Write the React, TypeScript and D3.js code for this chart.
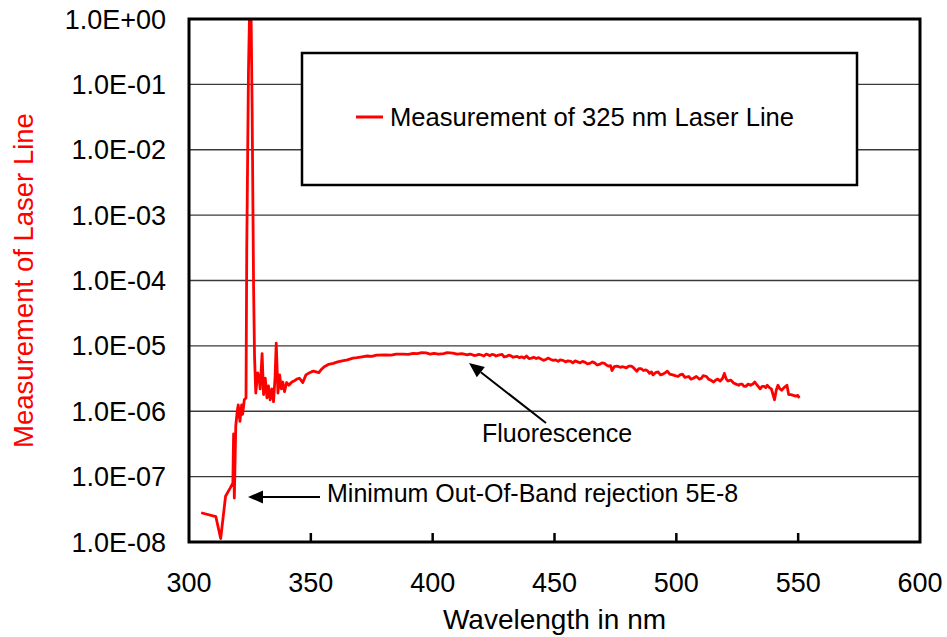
import React, { useRef, useEffect } from "react";
import * as d3 from "d3";

const wavelengths = [
  305, 311, 313, 315, 317, 318, 318.3, 318.6, 319.2, 319.8, 320.2, 320.9, 321.6, 322.0, 322.7, 323.4,
  323.7, 324.4, 324.8, 325.5, 325.9, 326.5, 326.9, 327.4, 328.2, 328.8, 329.2, 330.0, 330.6, 331.3,
  332.0, 332.6, 333.3, 334.0, 334.7, 335.3, 335.8, 336.5, 337.2, 337.9, 338.5, 339.2, 340.1, 341.0,
  342.2, 343.1, 344.2, 345.3, 346.7, 348.0, 349.0, 350.2, 351.1, 352.2, 353.3, 354.4, 355.5, 357.2,
  359.2, 361.0, 362.9, 365.0, 367.3, 369.0, 371.0, 373.1, 375.0, 377.0, 380.5, 383.0, 385.0, 387.8,
  390.0, 392.0, 393.7, 395.5, 397.3, 399.0, 400.5, 402.5, 404.5, 406.0, 408.3, 410.0, 412.0,
  414.2, 415.2, 416.0, 417.0, 418.0, 419.0, 420.0, 421.0, 422.0, 423.5, 424.3, 425.2, 426.0, 427.0,
  428.5, 429.3, 430.3, 431.2, 432.0, 433.0, 434.7, 435.5, 436.5, 437.5, 438.5, 439.5, 440.6, 441.5,
  442.5, 443.5, 444.5, 445.5, 446.4, 447.5, 448.5, 449.5, 450.5, 451.5, 452.3, 453.5, 454.5, 455.5,
  456.7, 457.5, 458.5, 459.5, 460.5, 461.5, 462.6, 463.5, 464.5, 465.5, 466.5, 467.5, 468.4, 469.5,
  470.5, 471.3, 472.1, 473.0, 473.6, 474.5, 475.7, 477.0, 478.0, 479.5, 480.5, 481.6, 482.5, 483.8,
  484.6, 485.5, 486.5, 487.5, 488.3, 489.0, 489.8, 490.4, 491.5, 492.5, 493.5, 494.5, 495.5, 496.3,
  497.3, 498.5, 499.5, 500.7, 501.5, 502.5, 503.5, 505.1, 506.0, 507.0, 508.2, 509.5, 510.3, 511.0,
  512.4, 513.2, 514.0, 515.3, 516.2, 517.0, 518.0, 519.0, 519.7, 520.5, 521.2, 522.3, 523.5, 524.5,
  525.6, 526.3, 527.0, 527.8, 528.5, 529.5, 530.5, 531.4, 532.2, 533.2, 534.4, 535.2, 536.0, 536.7,
  537.3, 538.2, 539.0, 540.3, 541.0, 541.7, 542.5, 543.2, 544.2, 545.4, 546.1, 547.0, 548.0, 549.1,
  549.8, 550.5,
];

const signal = [
  2.8e-8, 2.45e-8, 1.13e-8, 5.0e-8, 6.8e-8, 8.0e-8, 4.5e-7, 4.7e-8, 6.0e-7, 1.0e-6, 1.25e-6, 7.0e-7, 1.25e-6, 9.0e-7, 1.5e-6, 1.6e-6,
  2.9e-4, 0.155, 1.0, 1.0, 0.045, 8.3e-5, 6.8e-6, 1.9e-6, 3.85e-6, 3.2e-6, 2.2e-6, 7.6e-6, 1.8e-6, 3.2e-6,
  1.6e-6, 2.45e-6, 1.5e-6, 2.2e-6, 1.4e-6, 3.2e-6, 1.1e-5, 1.9e-6, 3.6e-6, 2.2e-6, 2.8e-6, 2.0e-6, 2.75e-6, 2.5e-6,
  2.8e-6, 2.9e-6, 3.1e-6, 3.2e-6, 2.75e-6, 3.6e-6, 3.8e-6, 4.0e-6, 4.1e-6, 4.0e-6, 3.9e-6, 4.4e-6, 4.8e-6, 5.2e-6,
  5.4e-6, 5.7e-6, 5.9e-6, 6.1e-6, 6.5e-6, 6.6e-6, 6.8e-6, 7.0e-6, 6.9e-6, 7.2e-6, 7.3e-6, 7.2e-6, 7.5e-6, 7.5e-6,
  7.4e-6, 7.7e-6, 7.6e-6, 7.9e-6, 7.8e-6, 7.5e-6, 7.7e-6, 7.5e-6, 7.6e-6, 7.9e-6, 7.75e-6, 7.5e-6, 7.6e-6,
  7.3e-6, 7.5e-6, 7.4e-6, 7.1e-6, 7.2e-6, 7.4e-6, 7.25e-6, 7.0e-6, 7.5e-6, 7.1e-6, 7.4e-6, 7.3e-6, 7.0e-6, 7.2e-6,
  7.4e-6, 6.8e-6, 6.9e-6, 7.2e-6, 7.1e-6, 6.7e-6, 6.9e-6, 6.6e-6, 6.8e-6, 6.5e-6, 7.0e-6, 6.4e-6, 6.5e-6, 6.7e-6,
  6.4e-6, 6.6e-6, 6.3e-6, 6.0e-6, 6.2e-6, 6.5e-6, 6.2e-6, 6.0e-6, 6.1e-6, 5.8e-6, 6.1e-6, 6.0e-6, 5.7e-6, 5.9e-6,
  5.8e-6, 5.5e-6, 5.9e-6, 5.7e-6, 5.5e-6, 5.8e-6, 5.6e-6, 5.3e-6, 5.4e-6, 5.7e-6, 5.5e-6, 5.1e-6, 5.2e-6, 5.5e-6,
  5.4e-6, 5.1e-6, 4.9e-6, 5.0e-6, 4.2e-6, 4.8e-6, 4.9e-6, 4.7e-6, 4.8e-6, 4.6e-6, 4.9e-6, 4.9e-6, 4.6e-6, 4.1e-6,
  4.5e-6, 4.5e-6, 4.2e-6, 4.3e-6, 4.1e-6, 3.8e-6, 4.0e-6, 3.6e-6, 3.9e-6, 4.0e-6, 3.6e-6, 3.7e-6, 3.9e-6, 4.1e-6,
  3.7e-6, 3.6e-6, 3.5e-6, 3.4e-6, 3.6e-6, 3.7e-6, 3.3e-6, 3.4e-6, 3.1e-6, 3.2e-6, 3.4e-6, 3.1e-6, 3.2e-6, 3.5e-6,
  3.4e-6, 3.1e-6, 3.0e-6, 2.8e-6, 3.0e-6, 3.1e-6, 2.9e-6, 3.2e-6, 3.8e-6, 3.1e-6, 2.9e-6, 3.0e-6, 2.7e-6, 2.6e-6,
  2.5e-6, 2.6e-6, 2.6e-6, 2.4e-6, 2.4e-6, 2.6e-6, 2.5e-6, 2.6e-6, 2.8e-6, 2.5e-6, 2.2e-6, 2.4e-6, 2.4e-6, 2.3e-6,
  2.5e-6, 2.3e-6, 2.2e-6, 1.5e-6, 2.1e-6, 2.5e-6, 2.2e-6, 2.1e-6, 2.3e-6, 2.5e-6, 1.8e-6, 1.8e-6, 1.75e-6, 1.7e-6,
  1.75e-6, 1.6e-6,
];

const xTicks = [300, 350, 400, 450, 500, 550, 600];
const yTicks = [1, 1e-1, 1e-2, 1e-3, 1e-4, 1e-5, 1e-6, 1e-7, 1e-8];
const yTickLabels = ["1.0E+00", "1.0E-01", "1.0E-02", "1.0E-03", "1.0E-04", "1.0E-05", "1.0E-06", "1.0E-07", "1.0E-08"];

const FONT = "'Liberation Sans', Arial, Helvetica, sans-serif";

const LaserChart = () => {
  const ref = useRef<SVGSVGElement>(null);

  useEffect(() => {
    if (!ref.current) return;
    const svg = d3.select(ref.current);
    svg.selectAll("*").remove();

    const width = 947;
    const height = 637;
    const left = 189;
    const right = 920;
    const top = 19;
    const bottom = 542;

    const x = d3.scaleLinear().domain([300, 600]).range([left, right]);
    const y = d3.scaleLog().domain([1e-8, 1]).range([bottom, top]);

    svg.append("rect").attr("width", width).attr("height", height).attr("fill", "#fff");

    // horizontal gridlines
    svg.append("g")
      .selectAll("line")
      .data(yTicks.slice(1, -1))
      .join("line")
      .attr("x1", left)
      .attr("x2", right)
      .attr("y1", d => y(d))
      .attr("y2", d => y(d))
      .attr("stroke", "#3a3a3a")
      .attr("stroke-width", 1.4);

    // legend box (covers the gridlines)
    svg.append("rect")
      .attr("x", 302)
      .attr("y", 53)
      .attr("width", 555)
      .attr("height", 132)
      .attr("fill", "#fff")
      .attr("stroke", "#000")
      .attr("stroke-width", 2.5);
    svg.append("line")
      .attr("x1", 356).attr("x2", 383)
      .attr("y1", 117).attr("y2", 117)
      .attr("stroke", "#ff0000")
      .attr("stroke-width", 3);
    svg.append("text")
      .attr("x", 390)
      .attr("y", 126)
      .attr("font-family", FONT)
      .attr("font-size", 25.6)
      .text("Measurement of 325 nm Laser Line");

    // data line
    svg.append("clipPath").attr("id", "plot-clip")
      .append("rect")
      .attr("x", left).attr("y", top)
      .attr("width", right - left).attr("height", bottom - top);

    const line = d3.line<number>()
      .x((_, i) => x(wavelengths[i]))
      .y(d => y(d));

    svg.append("path")
      .datum(signal)
      .attr("clip-path", "url(#plot-clip)")
      .attr("fill", "none")
      .attr("stroke", "#ff0000")
      .attr("stroke-width", 2.8)
      .attr("stroke-linejoin", "round")
      .attr("d", line);

    // plot border
    svg.append("rect")
      .attr("x", left).attr("y", top)
      .attr("width", right - left).attr("height", bottom - top)
      .attr("fill", "none")
      .attr("stroke", "#000")
      .attr("stroke-width", 3);

    // inward ticks on x axis
    svg.append("g")
      .selectAll("line")
      .data(xTicks.slice(1, -1))
      .join("line")
      .attr("x1", d => x(d)).attr("x2", d => x(d))
      .attr("y1", bottom).attr("y2", bottom - 9)
      .attr("stroke", "#000")
      .attr("stroke-width", 2.5);

    svg.append("g")
      .selectAll("text")
      .data(xTicks)
      .join("text")
      .attr("x", d => x(d))
      .attr("y", 592)
      .attr("text-anchor", "middle")
      .attr("font-family", FONT)
      .attr("font-size", 27)
      .text(d => d);

    svg.append("g")
      .selectAll("text")
      .data(yTicks)
      .join("text")
      .attr("x", 166)
      .attr("y", d => y(d) + 9.5)
      .attr("text-anchor", "end")
      .attr("font-family", FONT)
      .attr("font-size", 27)
      .text((_, i) => yTickLabels[i]);

    svg.append("text")
      .attr("x", (left + right) / 2)
      .attr("y", 629)
      .attr("text-anchor", "middle")
      .attr("font-family", FONT)
      .attr("font-size", 28)
      .text("Wavelength in nm");

    svg.append("text")
      .attr("transform", `translate(33,${(top + bottom) / 2}) rotate(-90)`)
      .attr("text-anchor", "middle")
      .attr("font-family", FONT)
      .attr("font-size", 27.5)
      .attr("fill", "#ff0000")
      .text("Measurement of Laser Line");

    // annotation arrows
    const arrow = (x1: number, y1: number, x2: number, y2: number) => {
      const ang = Math.atan2(y2 - y1, x2 - x1);
      const len = 15;
      const half = 6.5;
      const bx = x2 - len * Math.cos(ang);
      const by = y2 - len * Math.sin(ang);
      svg.append("line")
        .attr("x1", x1).attr("y1", y1)
        .attr("x2", bx).attr("y2", by)
        .attr("stroke", "#000")
        .attr("stroke-width", 2);
      const pts: [number, number][] = [
        [x2, y2],
        [bx + half * Math.sin(ang), by - half * Math.cos(ang)],
        [bx - half * Math.sin(ang), by + half * Math.cos(ang)],
      ];
      svg.append("polygon")
        .attr("points", pts.map(p => p.join(",")).join(" "))
        .attr("fill", "#000");
    };

    arrow(320, 497, 248, 497);
    svg.append("text")
      .attr("x", 327)
      .attr("y", 502)
      .attr("font-family", FONT)
      .attr("font-size", 25)
      .text("Minimum Out-Of-Band rejection 5E-8");

    arrow(546, 423, 469, 363);
    svg.append("text")
      .attr("x", 482)
      .attr("y", 442)
      .attr("font-family", FONT)
      .attr("font-size", 25)
      .text("Fluorescence");
  }, []);

  return <svg ref={ref} width={947} height={637} style={{ display: "block" }} />;
};

export default function App() {
  return (
    <div style={{ position: "fixed", left: 0, top: 0 }}>
      <LaserChart />
    </div>
  );
}
